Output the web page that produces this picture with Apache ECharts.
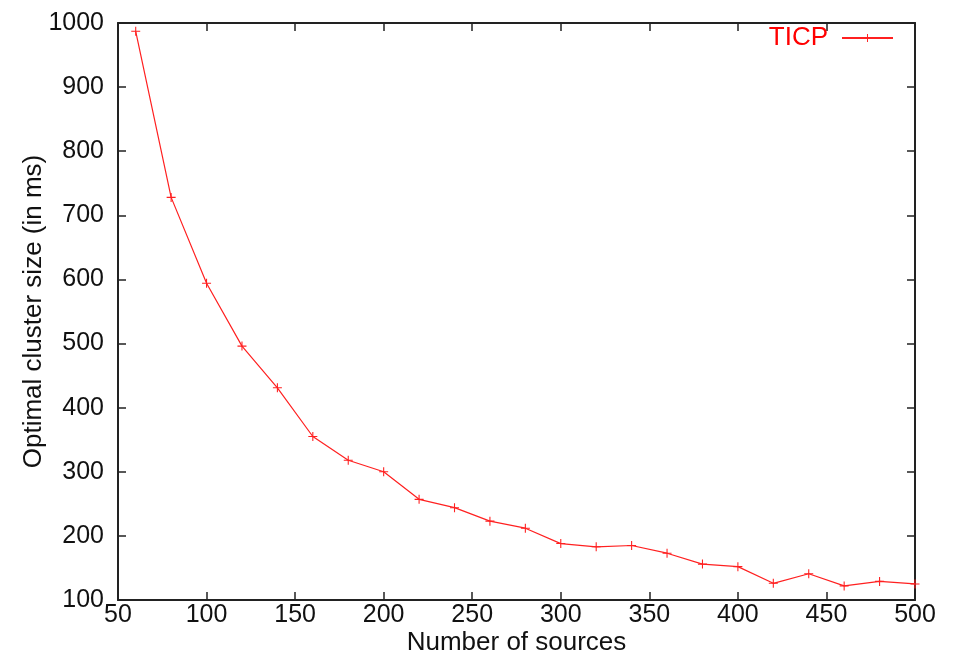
<!DOCTYPE html>
<html><head><meta charset="utf-8">
<script src="https://cdn.jsdelivr.net/npm/echarts@6/dist/echarts.min.js"></script>
<style>html,body{margin:0;padding:0;background:#fff}#c{width:956px;height:653px}</style>
</head><body><div id="c"></div>
<script>
const sources = [60,80,100,120,140,160,180,200,220,240,260,280,300,320,340,360,380,400,420,440,460,480,500];
const clusterSize = [987,728,594,496,431,355,318,300,257,244,223,212,188,183,185,173,156,152,126,141,122,129,125];
const xTicks = [50,100,150,200,250,300,350,400,450,500];
const yTicks = [100,200,300,400,500,600,700,800,900,1000];
const seriesName = 'TICP';

const font = 'Liberation Sans, Arial, sans-serif';
const plus = 'path://M4.4,0H5.6V4.4H10V5.6H5.6V10H4.4V5.6H0V4.4H4.4Z';
const axisLine = {show:true, lineStyle:{color:'#222', width:2}};
const axisTick = {show:true, inside:true, length:8, lineStyle:{color:'#222', width:1.5}};

const chart = echarts.init(document.getElementById('c'));
chart.setOption({
  animation:false,
  backgroundColor:'#fff',
  grid:{left:118, right:41, top:23, bottom:53, outerBoundsMode:'none', containLabel:false},
  legend:{
    data:[seriesName], right:62, top:25, align:'right', padding:0,
    itemWidth:51, itemHeight:10, itemGap:10,
    textStyle:{color:'#ff0000', fontSize:26, fontFamily:font, padding:[0,9,0,0]},
  },
  xAxis:[{
    type:'value', min:xTicks[0], max:xTicks[xTicks.length-1], interval:50,
    name:'Number of sources', nameLocation:'middle', nameGap:30, nameMoveOverlap:false,
    nameTextStyle:{color:'#111', fontSize:26, fontFamily:font},
    axisLine, axisTick, splitLine:{show:false},
    axisLabel:{color:'#111', fontSize:25, fontFamily:font, margin:3, formatter:v=>String(v)}
  },{
    type:'value', position:'top', min:xTicks[0], max:xTicks[xTicks.length-1], interval:50,
    axisLine, axisTick, splitLine:{show:false}, axisLabel:{show:false}
  }],
  yAxis:[{
    type:'value', min:yTicks[0], max:yTicks[yTicks.length-1], interval:100,
    name:'Optimal cluster size (in ms)', nameLocation:'middle', nameGap:71, nameMoveOverlap:false,
    nameTextStyle:{color:'#111', fontSize:26, fontFamily:font},
    axisLine, axisTick, splitLine:{show:false},
    axisLabel:{color:'#111', fontSize:25, fontFamily:font, margin:14, formatter:v=>String(v)}
  },{
    type:'value', position:'right', min:yTicks[0], max:yTicks[yTicks.length-1], interval:100,
    axisLine, axisTick, splitLine:{show:false}, axisLabel:{show:false}
  }],
  series:[{
    name:seriesName, type:'line',
    data:sources.map((s,i)=>[s, clusterSize[i]]),
    symbol:plus, symbolSize:9, showSymbol:true,
    lineStyle:{color:'#ff2020', width:1.2},
    itemStyle:{color:'#ff2020'}
  }]
});
</script></body></html>
